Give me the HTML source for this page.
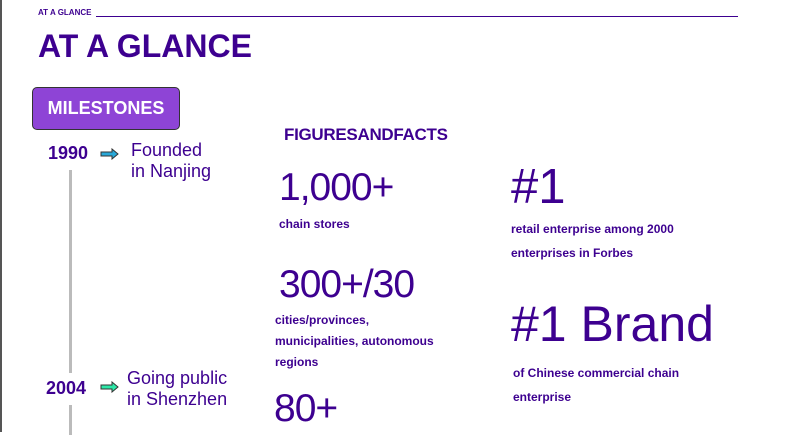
<!DOCTYPE html>
<html><head><meta charset="utf-8"><style>
body{margin:0;width:791px;height:432px;background:#fff;position:relative;overflow:hidden;font-family:"Liberation Sans",sans-serif;color:#3d0090}
.a{position:absolute;white-space:nowrap;line-height:1}
.b{font-weight:bold}
</style></head><body>
<div style="position:absolute;left:0;top:0;width:2px;height:432px;background:#555"></div>
<div class="a b" style="left:38px;top:9px;font-size:8px">AT A GLANCE</div>
<div style="position:absolute;left:96px;top:16px;width:642px;height:1px;background:#3d0090"></div>
<div class="a b" style="left:38px;top:30px;font-size:32px">AT A GLANCE</div>
<div style="position:absolute;left:32px;top:87px;width:146px;height:41px;background:#8e44d6;border:1px solid #333;border-radius:5px;color:#fff;font-weight:bold;font-size:18px;line-height:41px;text-align:center">MILESTONES</div>
<div style="position:absolute;left:69px;top:170px;width:3px;height:203px;background:#bbb"></div>
<div style="position:absolute;left:69px;top:405px;width:3px;height:30px;background:#bbb"></div>
<div class="a b" style="left:48px;top:144px;font-size:18px">1990</div>
<svg style="position:absolute;left:100px;top:148px" width="20" height="12"><path d="M1 4h11V1l6 5-6 5V8H1z" fill="#29a8d8" stroke="#333" stroke-width="1"/></svg>
<div class="a" style="left:131px;top:140px;font-size:18px;line-height:21px">Founded<br>in Nanjing</div>
<div class="a b" style="left:46px;top:379px;font-size:18px">2004</div>
<svg style="position:absolute;left:100px;top:381px" width="20" height="12"><path d="M1 4h11V1l6 5-6 5V8H1z" fill="#2de8a8" stroke="#333" stroke-width="1"/></svg>
<div class="a" style="left:127px;top:368px;font-size:18px;line-height:21px">Going public<br>in Shenzhen</div>
<div class="a b" style="left:284px;top:126px;font-size:17px;letter-spacing:-0.3px">FIGURESANDFACTS</div>
<div class="a" style="left:279px;top:168px;font-size:39px;letter-spacing:-1px">1,000+</div>
<div class="a b" style="left:279px;top:218px;font-size:12px">chain stores</div>
<div class="a" style="left:279px;top:265px;font-size:39px;letter-spacing:-1px">300+/30</div>
<div class="a b" style="left:275px;top:310px;font-size:12px;line-height:21px">cities/provinces,<br>municipalities, autonomous<br>regions</div>
<div class="a" style="left:274px;top:389px;font-size:39px;letter-spacing:-1px">80+</div>
<div class="a" style="left:511px;top:163px;font-size:49px">#1</div>
<div class="a b" style="left:511px;top:217px;font-size:12px;line-height:24px">retail enterprise among 2000<br>enterprises in Forbes</div>
<div class="a" style="left:511px;top:299px;font-size:50px">#1 Brand</div>
<div class="a b" style="left:513px;top:361px;font-size:12px;line-height:24px">of Chinese commercial chain<br>enterprise</div>
</body></html>
